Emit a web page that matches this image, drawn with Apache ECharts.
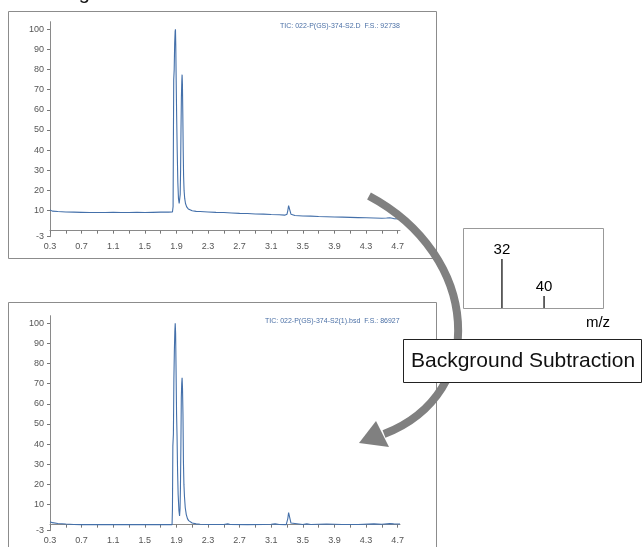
<!DOCTYPE html>
<html>
<head>
<meta charset="utf-8">
<script src="https://cdn.jsdelivr.net/npm/echarts@6/dist/echarts.min.js"></script>
<style>
html,body{margin:0;padding:0;background:#fff;}
#chart{width:644px;height:547px;}
</style>
</head>
<body>
<div id="chart"></div>
<script>
// ---- Data ----
var topTime = [0.30,0.33,0.40,0.50,0.60,0.70,0.80,0.90,1.00,1.10,1.20,1.30,1.40,1.50,1.60,1.70,1.80,1.85,
  1.858,1.862,1.866,1.872,1.878,1.884,1.888,1.892,1.897,1.903,1.910,1.918,1.926,1.935,1.942,1.948,1.953,
  1.958,1.963,1.968,1.972,1.976,1.981,1.986,1.991,1.997,2.005,2.015,2.030,2.050,2.075,2.10,2.15,2.20,
  2.30,2.40,2.50,2.60,2.70,2.80,2.90,3.00,3.10,3.20,3.27,3.30,3.31,3.32,3.33,3.34,3.35,3.37,3.40,3.50,
  3.60,3.70,3.80,3.90,4.00,4.10,4.20,4.30,4.40,4.50,4.56,4.58,4.60,4.65,4.73];
var topTic = [10.3,9.7,9.5,9.3,9.2,9.1,9.0,9.0,9.0,9.1,9.0,9.0,9.1,9.0,9.1,9.2,9.2,9.3,
  12,45,75,80,93,99,100,92,75,57,40,24,16,13.5,13,18,30,
  50,66,74,77.5,73,58,40,27,20,16,13.5,11.8,10.8,10.2,9.9,9.6,9.5,
  9.3,9.1,9.0,8.8,8.6,8.5,8.3,8.2,8.0,7.9,7.7,8.2,10.0,12.4,12.0,9.6,8.2,7.7,7.5,7.3,
  7.2,7.0,6.9,6.8,6.7,6.6,6.5,6.4,6.3,6.2,6.3,6.8,6.4,6.0,5.8];

var botTime = [0.30,0.33,0.40,0.50,0.60,0.70,0.80,1.00,1.20,1.40,1.60,1.80,1.845,
  1.850,1.855,1.862,1.868,1.874,1.880,1.885,1.890,1.895,1.902,1.908,1.915,1.922,1.932,1.940,1.946,
  1.951,1.957,1.962,1.967,1.972,1.977,1.983,1.989,1.995,2.002,2.012,2.025,2.040,2.055,2.075,2.10,
  2.15,2.20,2.30,2.50,2.55,2.58,2.80,3.00,3.10,3.15,3.20,3.29,3.30,3.31,3.32,3.33,3.34,3.35,3.37,
  3.50,3.55,3.60,3.80,4.00,4.20,4.40,4.50,4.60,4.65,4.73];
var botTic = [1.5,1.0,0.6,0.3,0.1,0.0,0.0,0.0,0.0,0.0,0.0,0.0,0.0,
  8,39,45,72,86,96,100,95,79,55,44,26,15,7,4.3,8,
  18,40,63,70,73,68,55,31,20,14,8.4,5,3,2,1.2,0.8,
  0.4,0.2,0.1,0.1,0.4,0.1,0.0,0.1,0.2,0.4,0.1,0.0,0.5,3,6,5.3,2.5,0.8,0.2,
  0.1,0.4,0.1,0.3,0.1,0.1,0.4,0.2,0.5,0.4,0.3];

var xLabelValues = [0.3,0.7,1.1,1.5,1.9,2.3,2.7,3.1,3.5,3.9,4.3,4.7];
var xTickValues = [0.3,0.5,0.7,0.9,1.1,1.3,1.5,1.7,1.9,2.1,2.3,2.5,2.7,2.9,3.1,3.3,3.5,3.7,3.9,4.1,4.3,4.5,4.7];
var yLabelValues = [-3,10,20,30,40,50,60,70,80,90,100];

var specMz = [32, 40];
var specInt = [100, 24.5];

var topTitle = 'TIC: 022-P(GS)-374-S2.D  F.S.: 92738';
var botTitle = 'TIC: 022-P(GS)-374-S2(1).bsd  F.S.: 86927';
var boxLabel = 'Background Subtraction';
var mzLabel = 'm/z';
var headLabel = 'Original';

function zip(a, b) { return a.map(function (v, i) { return [v, b[i]]; }); }

var traceColor = '#4470aa';
var smallFont = 'Liberation Sans, Arial, sans-serif';

function chromX(gi) {
  return {
    type: 'value', gridIndex: gi, min: 0.3, max: 4.73,
    splitLine: {show: false},
    axisLine: {lineStyle: {color: '#8a8a8a', width: 1}},
    axisTick: {show: true, customValues: xTickValues, length: 3, lineStyle: {color: '#777'}},
    axisLabel: {customValues: xLabelValues, formatter: function (v) { return v.toFixed(1); },
      fontSize: 9, color: '#555', margin: 5, fontFamily: smallFont}
  };
}
function chromY(gi) {
  return {
    type: 'value', gridIndex: gi, min: -3, max: 103.8,
    splitLine: {show: false},
    axisLine: {show: true, lineStyle: {color: '#8a8a8a', width: 1}},
    axisTick: {show: true, customValues: yLabelValues, length: 3, lineStyle: {color: '#777'}},
    axisLabel: {customValues: yLabelValues, fontSize: 9, color: '#555', margin: 6, fontFamily: smallFont}
  };
}

var chart = echarts.init(document.getElementById('chart'), null, {renderer: 'canvas'});
chart.setOption({
  animation: false,
  backgroundColor: '#fff',
  title: [
    {text: topTitle, left: 280, top: 23, padding: 0,
      textStyle: {fontSize: 7, color: '#4a6fa5', fontWeight: 'normal', fontFamily: smallFont,
        width: 121, overflow: 'truncate', ellipsis: ''}},
    {text: botTitle, left: 265, top: 318, padding: 0,
      textStyle: {fontSize: 7, color: '#4a6fa5', fontWeight: 'normal', fontFamily: smallFont,
        width: 136, overflow: 'truncate', ellipsis: ''}}
  ],
  grid: [
    {left: 50, right: 244, top: 21.7, bottom: 310.3},
    {left: 50, right: 244, top: 315.7, bottom: 16.3},
    {left: 463, top: 228, width: 140, height: 80}
  ],
  xAxis: [
    chromX(0), chromX(1),
    {type: 'value', gridIndex: 2, min: 24.6, max: 51.2, show: false}
  ],
  yAxis: [
    chromY(0), chromY(1),
    {type: 'value', gridIndex: 2, min: 0, max: 163, show: false}
  ],
  series: [
    {type: 'line', xAxisIndex: 0, yAxisIndex: 0, data: zip(topTime, topTic),
      showSymbol: false, symbol: 'none', lineStyle: {color: traceColor, width: 1.1}, z: 3},
    {type: 'line', xAxisIndex: 1, yAxisIndex: 1, data: zip(botTime, botTic),
      showSymbol: false, symbol: 'none', lineStyle: {color: traceColor, width: 1.1}, z: 3},
    {type: 'bar', xAxisIndex: 2, yAxisIndex: 2, data: zip(specMz, specInt),
      barWidth: 1.2, itemStyle: {color: '#000'},
      label: {show: true, position: 'top', distance: 2, fontSize: 15, color: '#000',
        fontFamily: 'Liberation Sans, Arial, sans-serif',
        formatter: function (p) { return String(p.value[0]); }}}
  ],
  graphic: [
    {type: 'text', x: 52, y: -7, z: 1,
      style: {text: headLabel, fontSize: 20, fill: '#111', verticalAlign: 'middle',
        fontFamily: 'Liberation Sans, Arial, sans-serif'}},
    {type: 'rect', shape: {x: 8.5, y: 11.5, width: 428, height: 247}, z: 0,
      style: {fill: 'none', stroke: '#8c8c8c', lineWidth: 1}},
    {type: 'rect', shape: {x: 8.5, y: 302.5, width: 428, height: 260}, z: 0,
      style: {fill: 'none', stroke: '#8c8c8c', lineWidth: 1}},
    {type: 'rect', shape: {x: 463.5, y: 228.5, width: 140, height: 80}, z: 0,
      style: {fill: 'none', stroke: '#999', lineWidth: 1}},
    {type: 'text', x: 598, y: 323, z: 5,
      style: {text: mzLabel, fontSize: 15, fill: '#000', align: 'center', verticalAlign: 'middle',
        fontFamily: 'Liberation Sans, Arial, sans-serif'}},
    {type: 'bezierCurve', z: 10,
      shape: {x1: 369, y1: 196, cpx1: 480, cpy1: 255, cpx2: 490, cpy2: 393, x2: 384, y2: 434},
      style: {fill: 'none', stroke: '#808080', lineWidth: 8}},
    {type: 'polygon', z: 10,
      shape: {points: [[359, 443], [376, 421], [389, 447]]},
      style: {fill: '#808080'}},
    {type: 'rect', z: 20, shape: {x: 403.5, y: 339.5, width: 238, height: 43},
      style: {fill: '#fff', stroke: '#222', lineWidth: 1}},
    {type: 'text', z: 21, x: 411, y: 361,
      style: {text: boxLabel, fontSize: 21, fill: '#111', verticalAlign: 'middle',
        fontFamily: 'Liberation Sans, Arial, sans-serif'}}
  ]
});
</script>
</body>
</html>
